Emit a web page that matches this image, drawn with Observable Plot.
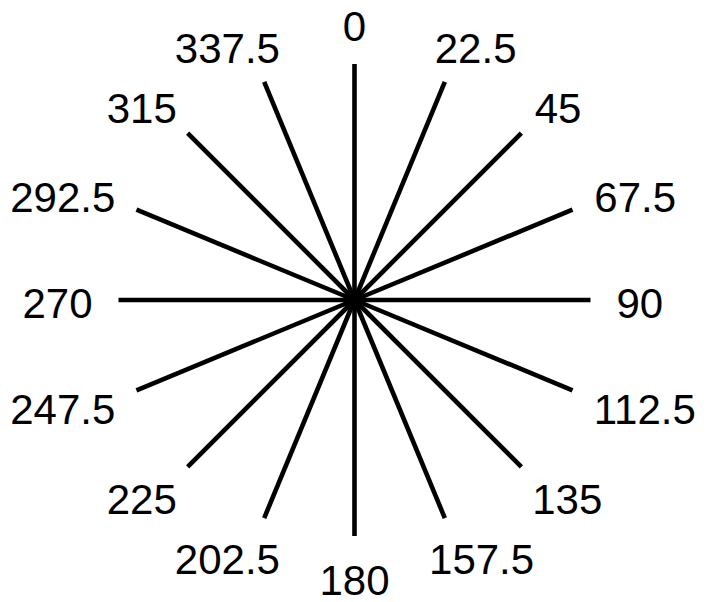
<!DOCTYPE html>
<html>
<head>
<meta charset="utf-8">
<script src="https://cdn.jsdelivr.net/npm/d3@7"></script>
<script src="https://cdn.jsdelivr.net/npm/@observablehq/plot@0.6"></script>
<style>
  html, body { margin: 0; padding: 0; background: #fff; }
</style>
</head>
<body>
<div id="chart"></div>
<script>
// Directions (degrees, clockwise from north) and their tick labels
const angles = [0, 22.5, 45, 67.5, 90, 112.5, 135, 157.5, 180, 202.5, 225, 247.5, 270, 292.5, 315, 337.5];
const tickLabels = ["0", "22.5", "45", "67.5", "90", "112.5", "135", "157.5", "180", "202.5", "225", "247.5", "270", "292.5", "315", "337.5"];

const FONT_SIZE = 42;
const FONT = "Liberation Sans, Arial, sans-serif";
const SPOKE = 236;      // spoke length (scale units = px)
const LABEL_R = 262;    // radius where label edge sits

const ctx = document.createElement("canvas").getContext("2d");
ctx.font = `${FONT_SIZE}px "Liberation Sans", Arial, sans-serif`;
const textH = 0.716 * FONT_SIZE;

const rad = a => a * Math.PI / 180;
const soft = v => Math.sign(v) * Math.pow(Math.abs(v), 0.7);
const rows = angles.map((a, i) => {
  const s = Math.sin(rad(a)), c = Math.cos(rad(a));
  const w = ctx.measureText(tickLabels[i]).width;
  return {
    angle: a,
    label: tickLabels[i],
    ex: SPOKE * s,
    ey: SPOKE * c,
    lx: LABEL_R * s + 0.5 * w * soft(s),
    ly: LABEL_R * c + 0.5 * textH * c
  };
});

const chart = Plot.plot({
  width: 707,
  height: 602,
  margin: 0,
  x: {domain: [-354, 353], axis: null},
  y: {domain: [-302.5, 299.5], axis: null},
  marks: [
    Plot.link(rows, {
      x1: () => 0, y1: () => 0, x2: "ex", y2: "ey",
      stroke: "black", strokeWidth: 4.6, strokeLinecap: "butt"
    }),
    Plot.text(rows, {
      x: "lx", y: "ly", text: "label",
      fontSize: FONT_SIZE, fontFamily: FONT, fill: "black", dy: 5
    })
  ]
});
document.getElementById("chart").appendChild(chart);
</script>
</body>
</html>
